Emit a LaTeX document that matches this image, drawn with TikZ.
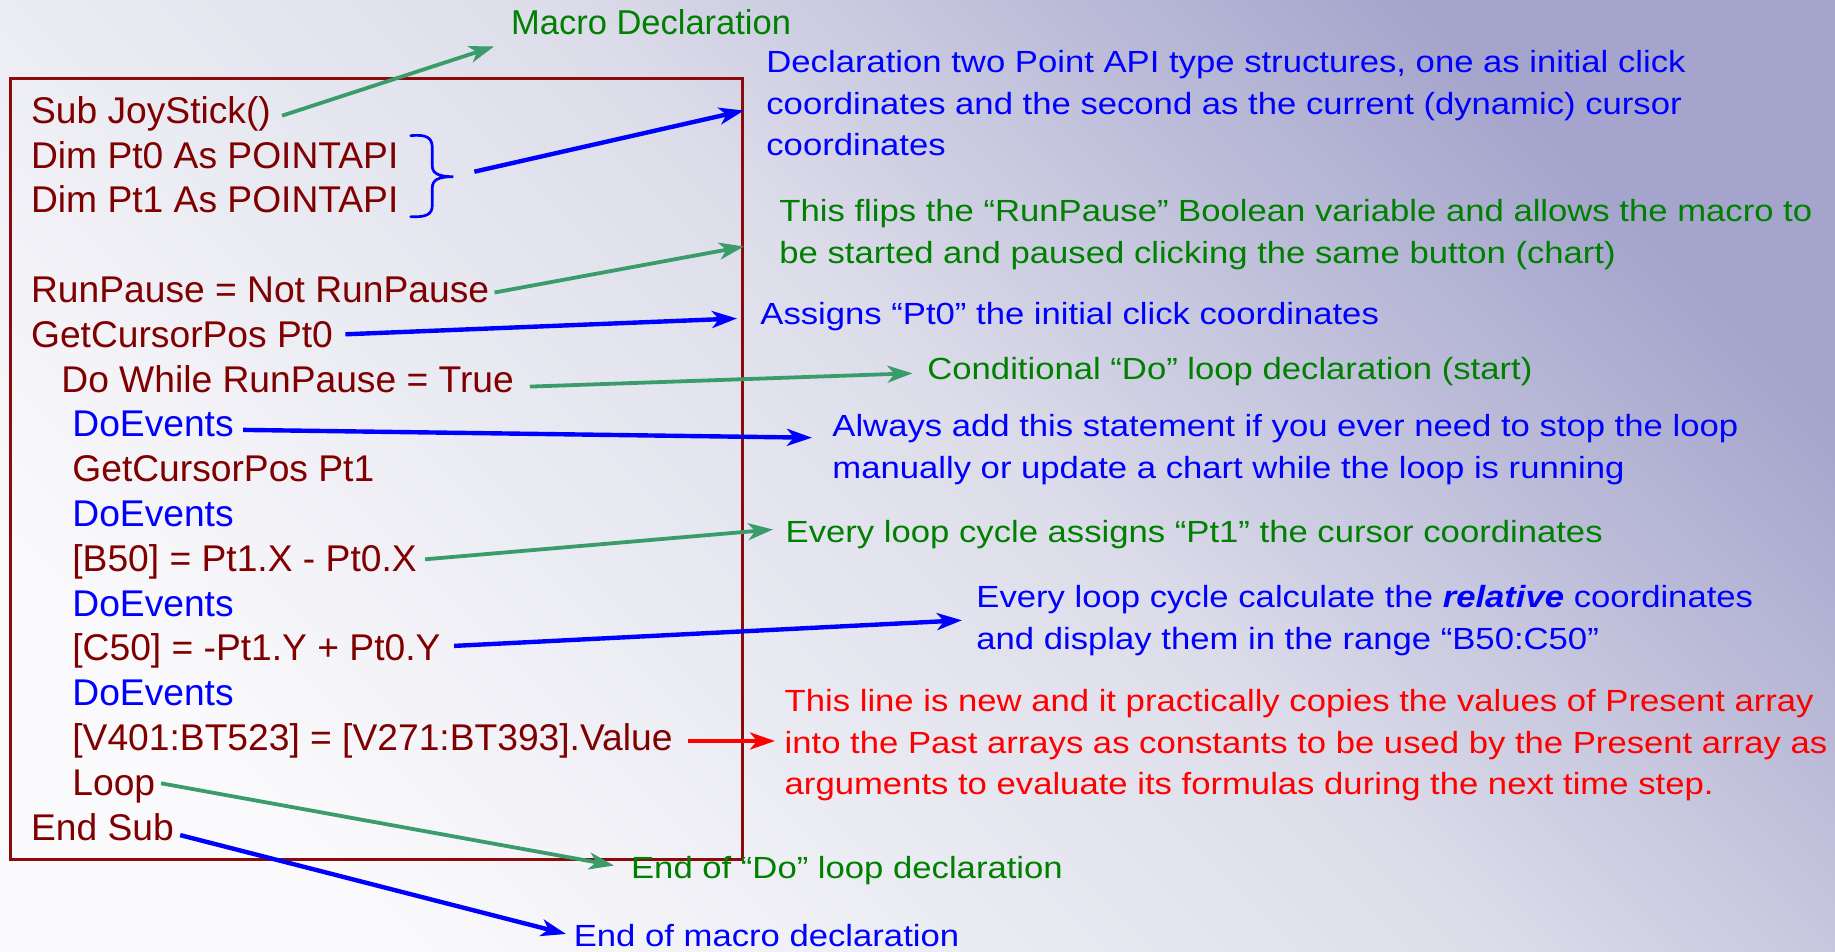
\documentclass[tikz,border=0pt]{standalone}
\usepackage{fontspec}
\setmainfont{Liberation Sans}
\newfontfamily\annfam{Liberation Sans}[FakeStretch=1.133]
\usetikzlibrary{arrows.meta,calc}

\definecolor{codered}{RGB}{128,0,0}
\definecolor{boxred}{RGB}{140,10,10}
\definecolor{annblue}{RGB}{0,0,255}
\definecolor{anngreen}{RGB}{0,128,0}
\definecolor{annred}{RGB}{255,0,0}
\definecolor{arrgreen}{RGB}{58,156,106}
\definecolor{bgA}{RGB}{250,250,252}
\definecolor{bgM}{RGB}{222,222,235}
\definecolor{bgB}{RGB}{164,164,204}

\pgfdeclarehorizontalshading{bgsh}{100bp}{color(0bp)=(bgA); color(25bp)=(bgA); color(52bp)=(bgM); color(75bp)=(bgB); color(100bp)=(bgB)}

\newcommand\mlines[1]{\vtop{\halign{##\hfil\cr#1\crcr}}}

\tikzset{
  code/.style={anchor=base west, inner sep=0pt, text=codered,
    font=\fontsize{18.6pt}{22pt}\selectfont},
  ann/.style={anchor=base west, inner sep=0pt,
    font=\annfam\fontsize{15.3pt}{20.75pt}\selectfont},
  macrofont/.style={font=\fontsize{17.25pt}{20pt}\selectfont},
  tipstyle/.style={-{Stealth[length=12.5pt,width=8.5pt,inset=3.5pt]}},
  garr/.style={draw=arrgreen, line width=1.9pt, tipstyle},
  barr/.style={draw=annblue, line width=2.2pt, tipstyle},
  rarr/.style={draw=annred, line width=2pt, tipstyle},
}

\begin{document}
\begin{tikzpicture}[x=0.5pt, y=-0.5pt]
\useasboundingbox (0,0) rectangle (1835,952);
\shade[shading=bgsh, shading angle=45] (0,0) rectangle (1835,952);

% code box
\draw[boxred, line width=1.5pt] (10,78.3) rectangle (742,859);

% code lines
\node[code] (l1) at (30.7,123.3) {Sub JoyStick()};
\node[code] (l2) at (30.7,168.1) {Dim Pt0 As POINTAPI};
\node[code] (l3) at (30.7,212.9) {Dim Pt1 As POINTAPI};
\node[code] (l5) at (30.7,302.5) {RunPause = Not RunPause};
\node[code] (l6) at (30.7,347.3) {GetCursorPos Pt0};
\node[code] (l7) at (61,392.1) {Do While RunPause = True};
\node[code, text=annblue] (l8) at (72,436.9) {DoEvents};
\node[code] (l9) at (72,481.7) {GetCursorPos Pt1};
\node[code, text=annblue] (l10) at (72,526.5) {DoEvents};
\node[code] (l11) at (72,571.3) {[B50] = Pt1.X - Pt0.X};
\node[code, text=annblue] (l12) at (72,616.1) {DoEvents};
\node[code] (l13) at (72,660.9) {[C50] = -Pt1.Y + Pt0.Y};
\node[code, text=annblue] (l14) at (72,705.7) {DoEvents};
\node[code] (l15) at (72,750.5) {[V401:BT523] = [V271:BT393].Value};
\node[code] (l16) at (72,795.3) {Loop};
\node[code] (l17) at (30.7,840.1) {End Sub};

% brace
\coordinate (btip) at (453.3,176.7);
\draw[annblue, line width=1.35pt, line cap=round]
  (410.7,135.7) .. controls (427,134) and (432.3,138) .. (432.3,148)
  -- (432.3,166) .. controls (432.3,173) and (438,176.7) .. (btip)
  .. controls (438,176.7) and (432.3,180) .. (432.3,188)
  -- (432.3,205) .. controls (432.3,214) and (427,217.5) .. (410.7,216.7);

% annotations
\node[ann, text=anngreen, macrofont] (a1) at (510.7,35) {Macro Declaration};
\node[ann, text=annblue] (a2) at (766,73) {\mlines{Declaration two Point API type structures, one as initial click\cr coordinates and the second as the current (dynamic) cursor\cr coordinates}};
\node[ann, text=anngreen] (a3) at (779,221.7) {\mlines{This flips the “RunPause” Boolean variable and allows the macro to\cr be started and paused clicking the same button (chart)}};
\node[ann, text=annblue] (a4) at (760,324) {Assigns “Pt0” the initial click coordinates};
\node[ann, text=anngreen] (a5) at (927,379.5) {Conditional “Do” loop declaration (start)};
\node[ann, text=annblue] (a6) at (832,436.7) {\mlines{Always add this statement if you ever need to stop the loop\cr manually or update a chart while the loop is running}};
\node[ann, text=anngreen] (a7) at (785.3,542) {Every loop cycle assigns “Pt1” the cursor coordinates};
\node[ann, text=annblue] (a8) at (976,607.5) {\mlines{Every loop cycle calculate the {\bfseries\itshape relative} coordinates\cr and display them in the range “B50:C50”}};
\node[ann, text=annred] (a9) at (784.3,711.7) {\mlines{This line is new and it practically copies the values of Present array\cr into the Past arrays as constants to be used by the Present array as\cr arguments to evaluate its formulas during the next time step.}};
\node[ann, text=anngreen] (a10) at (630.7,878.3) {End of “Do” loop declaration};
\node[ann, text=annblue] (a11) at (573.4,946.7) {End of macro declaration};

% arrow tips
\coordinate (tA) at (494,46.5);
\coordinate (tB) at (744,110.5);
\coordinate (tC) at (744,246.5);
\coordinate (tD) at (737,318.5);
\coordinate (tE) at (912.5,373.3);
\coordinate (tF) at (812,437.7);
\coordinate (tG) at (773,529.5);
\coordinate (tH) at (962,620.3);
\coordinate (tI) at (775,741);
\coordinate (tJ) at (614,865.5);
\coordinate (tK) at (566,934);

% arrows
\draw[garr] ($(l1.base east)+(10.7,-7.6)$) -- (tA);
\draw[barr] ($(btip)+(21,-5)$) -- (tB);
\draw[garr] ($(l5.base east)+(5,-10)$) -- (tC);
\draw[barr] ($(l6.base east)+(12,-13)$) -- (tD);
\draw[garr] ($(l7.base east)+(15.5,-5.5)$) -- (tE);
\draw[barr] ($(l8.base east)+(9,-7)$) -- (tF);
\draw[garr] ($(l11.base east)+(8,-12)$) -- (tG);
\draw[barr] ($(l13.base east)+(13.3,-15)$) -- (tH);
\draw[rarr] ($(l15.base east)+(15,-9.5)$) -- (tI);
\draw[garr] ($(l16.base east)+(5.5,-12)$) -- (tJ);
\draw[barr] ($(l17.base east)+(6,-5)$) -- (tK);
\end{tikzpicture}
\end{document}
